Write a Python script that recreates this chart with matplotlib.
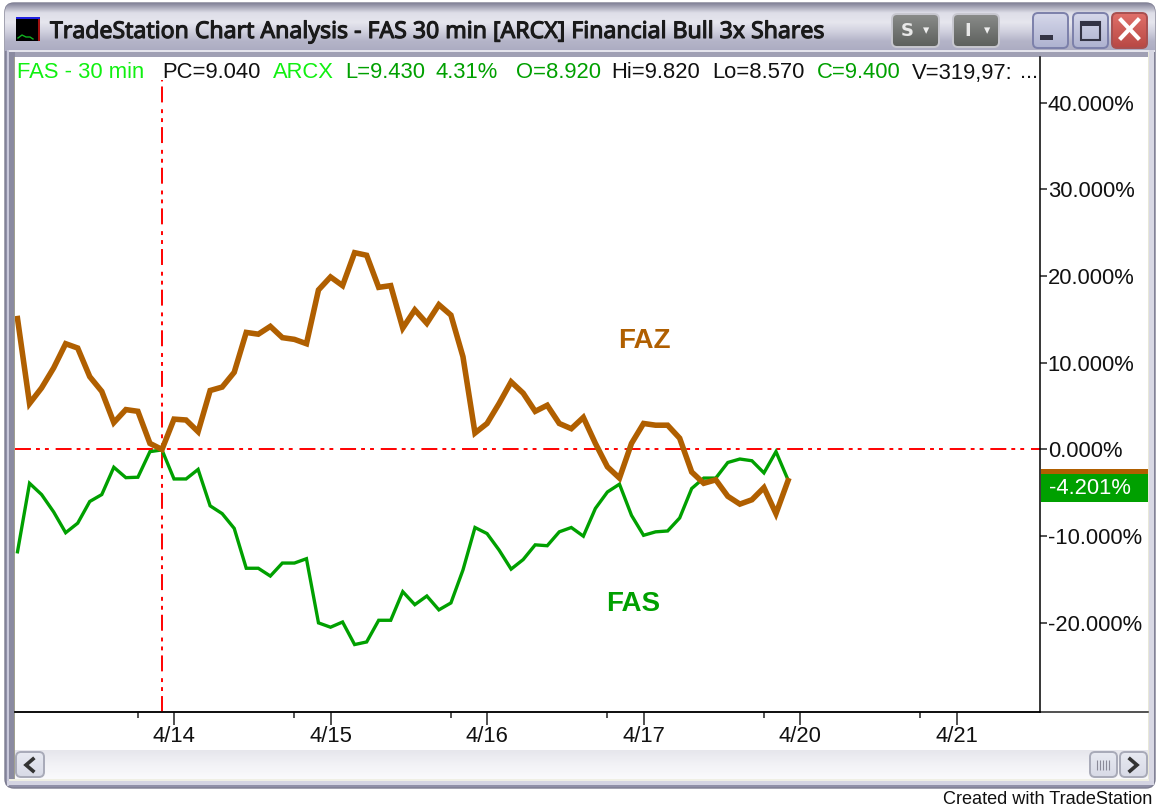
import numpy as np
import matplotlib
matplotlib.use('Agg')
import matplotlib.pyplot as plt
import matplotlib.patheffects as pe
from matplotlib.patches import Rectangle, FancyBboxPatch

# valors llegits del grafic (% respecte a la barra 12), barres de 30 min
faz = [15.1, 5.3, 7.1, 9.4, 12.2, 11.7, 8.4, 6.7, 3.1, 4.6, 4.4, 0.7, 0.0,
       3.5, 3.4, 2.05, 6.8, 7.2, 8.9, 13.5, 13.3, 14.2, 12.9, 12.7, 12.2,
       18.4, 19.9, 18.9, 22.7, 22.4, 18.7, 18.9, 14.0, 16.1, 14.55, 16.7, 15.5,
       10.7, 1.9, 3.0, 5.3, 7.8, 6.5, 4.4, 5.1, 3.0, 2.4, 3.7, 0.7, -2.0,
       -3.3, 0.7, 3.0, 2.8, 2.8, 1.3, -2.6, -3.9, -3.5, -5.4, -6.3, -5.8,
       -4.4, -7.4, -3.6]
fas = [-11.8, -3.9, -5.2, -7.2, -9.6, -8.5, -6.0, -5.2, -2.05, -3.25, -3.2, -0.25, -0.05,
       -3.4, -3.4, -2.3, -6.5, -7.4, -9.1, -13.7, -13.7, -14.6, -13.1, -13.1, -12.6,
       -20.0, -20.5, -19.9, -22.5, -22.2, -19.7, -19.7, -16.4, -17.9, -16.9, -18.5, -17.7,
       -13.9, -9.0, -9.7, -11.6, -13.8, -12.7, -11.0, -11.1, -9.5, -9.0, -10.0, -6.8,
       -4.9, -4.0, -7.6, -9.9, -9.5, -9.4, -7.9, -4.5, -3.3, -3.3, -1.5, -1.1, -1.3,
       -2.7, -0.25, -3.5]

date_labels = ['4/14', '4/15', '4/16', '4/17', '4/20', '4/21']
date_bars = [13, 26, 39, 52, 65, 78]
minor_bars = [10, 23, 36, 49, 62, 75]
pct_ticks = [40, 30, 20, 10, 0, -10, -20]

BROWN = '#b05f00'
GREEN = '#00a000'
LIME = '#10f010'
W, H = 1156, 810
SANS = 'Liberation Sans'

fig = plt.figure(figsize=(W / 100, H / 100), dpi=100, facecolor='white')

# capa de fons en pixels per la finestra
bg = fig.add_axes([0, 0, 1, 1], zorder=0)
bg.axis('off')


def gradient(x0, x1, y0, y1, colors, z=2):
    rgb = np.array([matplotlib.colors.to_rgb(c) for c in colors])
    pos = np.linspace(0, 1, len(colors))
    t = np.linspace(0, 1, 64)
    img = np.stack([np.interp(t, pos, rgb[:, k]) for k in range(3)], axis=1)[:, None, :]
    return bg.imshow(img, extent=(x0, x1, y1, y0), aspect='auto', interpolation='bilinear', zorder=z)


def rect(x0, y0, x1, y1, color, z=3, **kw):
    bg.add_patch(Rectangle((x0, y0), x1 - x0, y1 - y0, facecolor=color, edgecolor='none', zorder=z, **kw))


def button(x0, y0, x1, y1, colors, edge):
    box = FancyBboxPatch((x0 + 3, y0 + 3), x1 - x0 - 6, y1 - y0 - 6, boxstyle='round,pad=3,rounding_size=5',
                         facecolor='none', edgecolor=edge, linewidth=1.4, zorder=5)
    bg.add_patch(box)
    im = gradient(x0, x1, y0, y1, colors, z=4)
    im.set_clip_path(box)


# marc de la finestra
bg.add_patch(FancyBboxPatch((8, 6), W - 12, 779, boxstyle='round,pad=3,rounding_size=9',
                            facecolor='#9090a8', edgecolor='#7c7c90', linewidth=1, zorder=1))
win = FancyBboxPatch((8, 6), W - 12, 779, boxstyle='round,pad=3,rounding_size=9', facecolor='none', edgecolor='none')
bg.add_patch(win)
im = gradient(5, 1156, 3, 51, ['#85859a', '#dedee8', '#e6e6ee', '#d0d0de', '#b4b4c8', '#acacc2'])
im.set_clip_path(win)
rect(7, 50, 1155, 52, '#e4e4ec')
rect(9, 52, 1152, 57, '#a0a0b4')
rect(7, 50, 9, 786, '#c8c8da')
rect(9, 52, 15, 780, '#8a8aa0')
rect(14, 57, 15, 780, '#a0a090')
rect(1148, 52, 1149, 780, '#e8e8d8')
rect(1149, 50, 1154, 785, '#d8d8e4')
rect(9, 779, 1149, 781, '#efefe4')
rect(7, 781, 1154, 785, '#d4d4e2')
rect(15, 57, 1148, 750, 'white')
gradient(15, 1148, 750, 779, ['#e6e6ec', '#f2f2f6', '#fafafc'])

# icona
rect(16, 17, 40, 41, 'black')
rect(16, 17, 40, 19, '#2020e0')
rect(38, 19, 40, 41, '#a01010')
bg.plot([18, 22, 26, 30, 33], [38, 35, 37, 37, 39], color='#10b020', lw=1, zorder=4)

# titol i botons
title = bg.text(50, 32, 'TradeStation Chart Analysis - FAS 30 min [ARCX] Financial Bull 3x Shares',
                fontsize=16.6, family='Noto Sans', color='#1a1a1a', va='center', ha='left', zorder=6)
title.set_path_effects([pe.withStroke(linewidth=0.8, foreground='#1a1a1a')])
for x0, x1, letter in [(892, 939, 'S'), (953, 999, 'I')]:
    button(x0, 14, x1, 47, ['#8a8c8a', '#5c5f5c'], '#c8c8d0')
    bg.text(x0 + 15, 31, letter, color='#e8e8e8', fontsize=13, fontweight='bold', family='DejaVu Sans',
            ha='center', va='center', zorder=6)
    bg.text(x0 + 34, 31, '▾', color='#eeeeee', fontsize=9, ha='center', va='center', zorder=6)
button(1033, 13, 1068, 48, ['#d6d8ea', '#aeb2d0'], '#7c80aa')
button(1073, 13, 1108, 48, ['#d6d8ea', '#aeb2d0'], '#7c80aa')
button(1112, 13, 1147, 48, ['#e0706a', '#b84844'], '#a85050')
rect(1040, 35, 1053, 40, '#333344', z=6)
bg.add_patch(Rectangle((1081, 22), 19, 18, facecolor='none', edgecolor='#333344', linewidth=1.5, zorder=6))
rect(1081, 22, 1100, 26, '#333344', z=6)
bg.plot([1121, 1138], [20, 38], color='white', lw=3, zorder=6)
bg.plot([1138, 1121], [20, 38], color='white', lw=3, zorder=6)

# barra de desplacament
for x0, x1 in [(16, 44), (1090, 1117), (1120, 1147)]:
    button(x0, 752, x1, 777, ['#e8eaf2', '#d8dae6'], '#a8aab8')
bg.plot([33, 26, 33], [759, 765, 771], color='#333333', lw=2.6, zorder=6, solid_joinstyle='miter')
bg.plot([1130, 1137, 1130], [759, 765, 771], color='#333333', lw=2.6, zorder=6, solid_joinstyle='miter')
bg.vlines([1097, 1100, 1103, 1106, 1109], 760, 770, color='#8a8a98', lw=0.8, zorder=6)

# eix x estes i etiqueta de l'ultim valor
rect(1041, 469, 1148, 474, BROWN, z=6)
rect(1041, 474, 1148, 502, GREEN, z=6)
bg.text(1090, 488, '-4.201%', color='white', fontsize=15.8, family=SANS, ha='center', va='center', zorder=7)
bg.plot([15, 1148], [712, 712], color='#222222', lw=1.1, zorder=6)
bg.text(1152, 800, 'Created with TradeStation', fontsize=13.1, family=SANS, color='#111111', ha='right', va='center')
bg.set_xlim(0, W)
bg.set_ylim(H, 0)

# grafic principal
ax = fig.add_axes([15 / W, 1 - 712 / H, (1040 - 15) / W, (712 - 57) / H], zorder=2)
ax.patch.set_alpha(0)
bars = np.arange(len(faz))
dash = (0, (8.2, 2.6, 2.0, 2.6, 2.0, 3.5))
ax.axhline(0, color='#ff0000', lw=1.4, ls=dash, zorder=1)
ax.axvline(12, ymax=0.965, color='#ff0000', lw=1.4, ls=dash, zorder=1)
ax.plot(bars, fas, color=GREEN, lw=2.4, solid_joinstyle='miter', zorder=2)
ax.plot(bars, faz, color=BROWN, lw=4.0, solid_joinstyle='miter', zorder=3)
ax.text(52.1, 12.5, 'FAZ', color=BROWN, fontsize=20, fontweight='bold', family=SANS, ha='center', va='center')
ax.text(51.1, -17.8, 'FAS', color=GREEN, fontsize=20, fontweight='bold', family=SANS, ha='center', va='center')

ax.set_xlim(-0.208, 84.93)
ax.set_ylim(-30.28, 45.27)
ax.set_xticks(date_bars)
ax.set_xticklabels(date_labels)
ax.set_xticks(minor_bars, minor=True)
ax.set_yticks(pct_ticks)
ax.set_yticklabels(['%.3f%%' % p for p in pct_ticks], va='center_baseline')
ax.yaxis.tick_right()
ax.tick_params(axis='x', which='major', length=9.4, width=1.1, pad=1, labelsize=15.8, color='#222222')
ax.tick_params(axis='x', which='minor', length=4.4, width=1.1, color='#222222')
ax.tick_params(axis='y', length=5, width=1.1, pad=0.5, labelsize=15.8, color='#222222')
for lab in ax.get_xticklabels() + ax.get_yticklabels():
    lab.set_family(SANS)
    lab.set_color('#111111')
ax.spines['top'].set_visible(False)
ax.spines['left'].set_visible(False)
ax.spines['right'].set_linewidth(1.1)
ax.spines['bottom'].set_linewidth(1.1)

# capcalera amb els valors de la barra
header = [(17, 'FAS - 30 min', LIME), (162, 'PC=9.040', '#111111'), (273, 'ARCX', LIME),
          (345, 'L=9.430', GREEN), (436, '4.31%', GREEN), (516, 'O=8.920', GREEN),
          (611, 'Hi=9.820', '#111111'), (712, 'Lo=8.570', '#111111'), (817, 'C=9.400', GREEN),
          (912, 'V=319,97:', '#111111'), (1020, '...', '#111111')]
for px, txt, col in header:
    fig.text(px / W, 1 - 73 / H, txt, color=col, fontsize=15.8, family=SANS, ha='left', va='center', zorder=5)

fig.savefig('out.png', dpi=100)
